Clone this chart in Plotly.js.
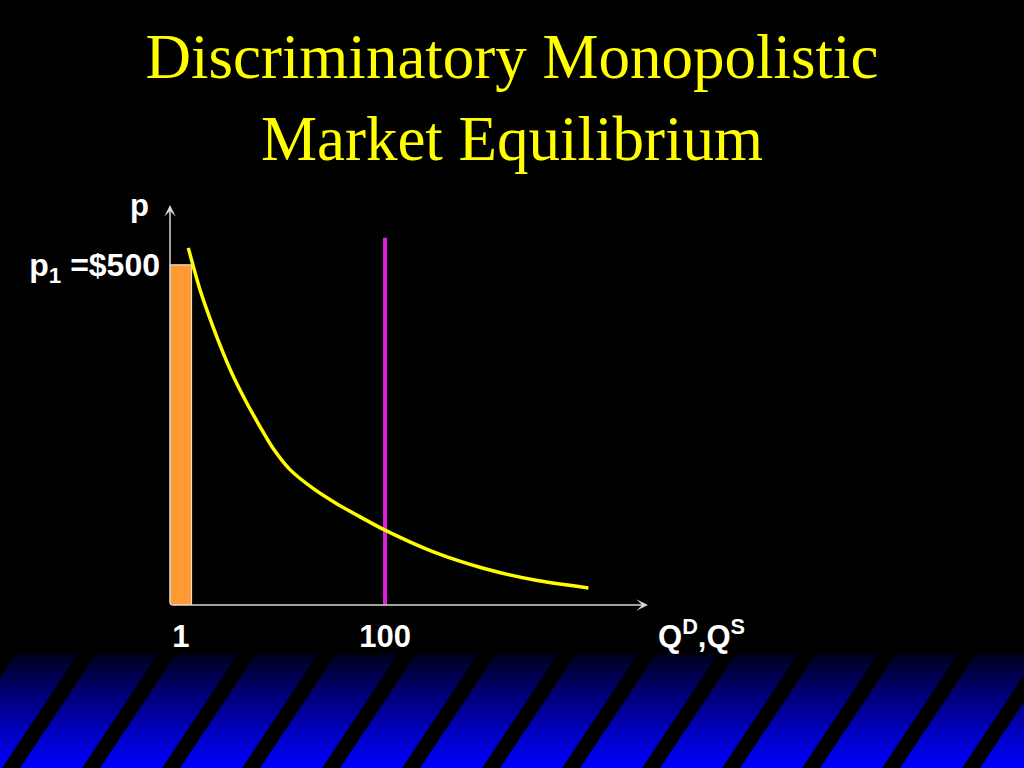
<!DOCTYPE html>
<html>
<head>
<meta charset="utf-8">
<script src="https://cdn.plot.ly/plotly-3.0.1.min.js"></script>
<style>
html,body{margin:0;padding:0;background:#000;}
#chart{width:1024px;height:768px;}
</style>
</head>
<body>
<div id="chart"></div>
<script>
// ---- data (schematic units) ----
const titleText = "Discriminatory Monopolistic<br>Market Equilibrium";
const tickPositions = [0.5, 10];          // x positions of the quantity ticks
const tickLabels = ["1", "100"];          // quantity tick labels
const priceTicks = [500];
const priceLabels = ["p<sub>1</sub> =$500"];
const barX = [0.5];                       // first unit sold
const barWidth = [1];
const barPrice = [500];                   // p1 = $500
const supplyX = [10, 10];                 // vertical supply at Q = 100
const supplyY = [0, 540];
const demandX = [0.85, 1.40, 1.94, 2.48, 3.02, 3.57, 4.19, 4.80, 5.58, 6.67, 7.75, 8.76, 10.0, 12.25, 14.57, 16.90, 19.46];
const demandY = [525, 463, 414, 370, 331, 297, 262, 230, 199, 171, 149, 131, 110, 78, 54, 37, 25];
const xMax = 22.23, yMax = 588;

// ---- figure geometry ----
const W = 1024, H = 768;
const mL = 170, mR = 376, mT = 205, mB = 163;
const pw = W - mL - mR, ph = H - mT - mB;
const px = v => (v - mL) / pw;            // pixel -> paper x
const py = v => (H - mB - v) / ph;        // pixel -> paper y

// decorative bottom band: gradient + diagonal stripes
const shapes = [];
const bandTop = 654, bandBot = 768, nBands = 38;
for (let i = 0; i < nBands; i++) {
  const y0 = bandTop + (bandBot - bandTop) * i / nBands;
  const y1 = bandTop + (bandBot - bandTop) * (i + 1) / nBands;
  const t = (i + 0.5) / nBands;
  const b = Math.round(20 + 235 * Math.pow(t, 0.85));
  shapes.push({type:'rect', xref:'paper', yref:'paper', layer:'above',
    x0: px(0), x1: px(W), y0: py(y1 + 0.5), y1: py(y0),
    fillcolor: `rgb(0,0,${b})`, line:{width:0}});
}
for (let k = -1; k < 14; k++) {
  const tl = 78 + 80 * k, tr = 96 + 80 * k, bl = 2 + 80 * k, br = 20 + 80 * k;
  shapes.push({type:'path', xref:'paper', yref:'paper', layer:'above',
    path: `M${px(tl)},${py(bandTop)} L${px(tr)},${py(bandTop)} L${px(br)},${py(bandBot)} L${px(bl)},${py(bandBot)} Z`,
    fillcolor:'#000', line:{width:0}});
}

const labelFont = {family:'"Liberation Sans", Arial, sans-serif', size:31, color:'#ffffff', weight:'bold'};
const yLabelFont = {family:'"Liberation Sans", Arial, sans-serif', size:32, color:'#ffffff', weight:'bold'};
const axisColor = '#d8d8d8';

const traces = [
  {type:'bar', x:barX, y:barPrice, width:barWidth,
   marker:{color:'#ff9933', line:{color:'#f5dcc0', width:1.2}}, hoverinfo:'skip'},
  {type:'scatter', mode:'lines', x:supplyX, y:supplyY,
   line:{color:'#e01ee0', width:4}, hoverinfo:'skip'},
  {type:'scatter', mode:'lines', x:demandX, y:demandY,
   line:{color:'#ffff00', width:3.5, shape:'spline', smoothing:0.8}, hoverinfo:'skip'}
];

const layout = {
  width: W, height: H,
  margin:{l:mL, r:mR, t:mT, b:mB, pad:0},
  paper_bgcolor:'#000', plot_bgcolor:'#000',
  showlegend:false,
  title:{text:titleText, x:0.5, xanchor:'center', y:1 - 78/768, yanchor:'middle',
    font:{family:'"Liberation Serif", "Times New Roman", serif', size:63, color:'#ffff00'}},
  xaxis:{range:[0, xMax], showgrid:false, zeroline:false, showline:false,
    tickmode:'array', tickvals:tickPositions, ticktext:tickLabels, ticks:'',
    tickfont:labelFont, ticklabelstandoff:10, fixedrange:true},
  yaxis:{range:[0, yMax], showgrid:false, zeroline:false, showline:false,
    tickmode:'array', tickvals:priceTicks, ticktext:priceLabels, ticks:'',
    tickfont:yLabelFont, ticklabelstandoff:9, fixedrange:true},
  shapes: shapes,
  annotations:[
    {x:xMax, y:0, ax:0, ay:0, xref:'x', yref:'y', axref:'x', ayref:'y', text:'',
     showarrow:true, arrowhead:3, arrowsize:1.3, arrowwidth:1.5, arrowcolor:axisColor, standoff:0},
    {x:0, y:yMax, ax:0, ay:0, xref:'x', yref:'y', axref:'x', ayref:'y', text:'',
     showarrow:true, arrowhead:3, arrowsize:1.3, arrowwidth:1.5, arrowcolor:axisColor, standoff:0},
    {x:px(139), y:py(206), xref:'paper', yref:'paper', text:'p', showarrow:false,
     xanchor:'center', yanchor:'middle', font:labelFont},
    {x:px(656), y:py(634), xref:'paper', yref:'paper', text:'Q<sup>D</sup>,Q<sup>S</sup>', showarrow:false,
     xanchor:'left', yanchor:'middle', font:labelFont}
  ]
};

Plotly.newPlot('chart', traces, layout, {displayModeBar:false, staticPlot:true});
</script>
</body>
</html>
